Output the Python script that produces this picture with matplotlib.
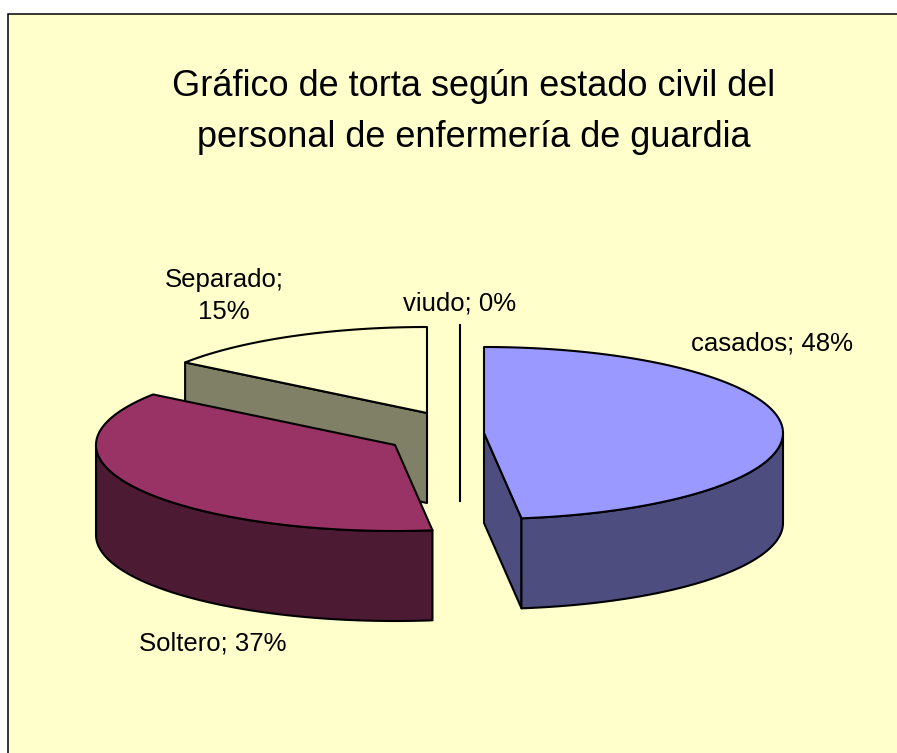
import numpy as np
import matplotlib
matplotlib.use("Agg")
import matplotlib.pyplot as plt
from matplotlib.patches import Polygon

plt.rcParams['font.family'] = ['Liberation Sans', 'DejaVu Sans']

# --- data ---
categories = ["casados", "Soltero", "Separado", "viudo"]
values = [48, 37, 15, 0]
title_lines = "Gráfico de torta según estado civil del\npersonal de enfermería de guardia"

# --- style and layout ---
top_colors = {"casados": "#9999FF", "Soltero": "#993366", "viudo": "#000000", "Separado": "#FFFFCC"}
side_colors = {"casados": "#4D4D80", "Soltero": "#4D1A33", "viudo": "#000000", "Separado": "#808066"}
centers = {"casados": (484, 433), "Soltero": (395, 445), "viudo": (460, 411), "Separado": (427, 413)}
label_pos = {"casados": (772, 343), "Soltero": (213, 644), "viudo": (460, 303), "Separado": (224, 296)}
label_text = {"casados": "casados; 48%", "Soltero": "Soltero; 37%", "viudo": "viudo; 0%", "Separado": "Separado;\n15%"}
draw_order = ["Separado", "Soltero", "viudo", "casados"]
RX, RY, DEPTH = 299, 86, 90
LW = 1.5

W, H = 897, 753
fig = plt.figure(figsize=(W / 100, H / 100), dpi=100, facecolor="white")
ax = fig.add_axes([0, 0, 1, 1])
ax.set_xlim(0, W)
ax.set_ylim(H, 0)
ax.axis("off")

# chart area: border on the left and top, running off the canvas on the other sides
ax.add_patch(Polygon([(7.5, 13.5), (W + 5, 13.5), (W + 5, H + 5), (7.5, H + 5)],
                     closed=True, facecolor="#FFFFCC", edgecolor="black", lw=1.1))

# slice angles, clockwise from the top of the ellipse
total = sum(values)
ends = np.cumsum(values) / total * 360.0
starts = ends - np.array(values) / total * 360.0
angles = {c: (s, e) for c, s, e in zip(categories, starts, ends)}


def rim(cx, cy, a):
    a = np.radians(a)
    return np.column_stack([cx + RX * np.sin(a), cy - RY * np.cos(a)])


def poly(pts, color):
    ax.add_patch(Polygon(pts, closed=True, facecolor=color, edgecolor="black",
                         lw=LW, joinstyle="round"))


def draw_slice(name):
    cx, cy = centers[name]
    start, end = angles[name]
    apex = np.array([[cx, cy]])
    down = np.array([0, DEPTH])
    if end - start < 1e-9:
        p = rim(cx, cy, np.array([start]))
        ax.plot([p[0, 0], cx], [p[0, 1], cy + DEPTH], color="black", lw=LW)
        return
    # flat cut faces that turn toward the viewer
    for a, sign in ((start, -1), (end, 1)):
        if sign * np.sin(np.radians(a)) > 1e-6:
            p = rim(cx, cy, np.array([a]))
            poly(np.vstack([apex, p, p + down, apex + down]), side_colors[name])
    # outer wall
    lo, hi = max(start, 90), min(end, 270)
    if hi > lo:
        arc = rim(cx, cy, np.linspace(lo, hi, 80))
        poly(np.vstack([arc, (arc + down)[::-1]]), side_colors[name])
    # top face
    arc = rim(cx, cy, np.linspace(start, end, 200))
    poly(np.vstack([apex, arc]), top_colors[name])


for name in draw_order:
    draw_slice(name)

for name in categories:
    x, y = label_pos[name]
    ax.text(x, y, label_text[name], ha="center", va="center", fontsize=18.5,
            color="black", linespacing=1.45)

ax.text(474, 112, title_lines, ha="center", va="center", fontsize=26.0,
        color="black", linespacing=1.6)

fig.savefig("out.png", dpi=100, facecolor="white")
